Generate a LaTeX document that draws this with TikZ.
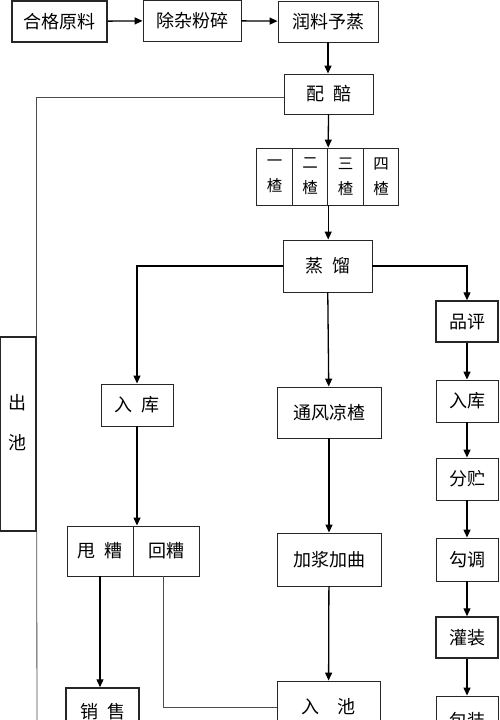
\documentclass[tikz,border=0pt]{standalone}
\usepackage{fontspec}
\newfontfamily\cjk{Noto Sans CJK SC}
\usetikzlibrary{arrows.meta}

\begin{document}
\begin{tikzpicture}[x=1pt,y=-1pt,
		box/.style={draw=black!85,line width=0.9pt,inner sep=0pt,minimum height=41pt,align=center,font=\cjk\fontsize{18}{20}\selectfont},
		heavy/.style={box,line width=1.5pt},
		zha/.style={box,minimum width=35.5pt,minimum height=57pt,font=\cjk\fontsize{15.5}{25}\selectfont},
		e/.style={-{Triangle[length=8pt,width=7pt]},line width=1.3pt,draw=black},
		l/.style={line width=0.8pt,draw=black!70}
		]
		\clip (0,0) rectangle (500,720);
		\node[heavy,minimum width=95pt] (raw) at (59.5,21.5) {合格原料};
		\node[box,minimum width=98pt] (clean) at (192,20.5) {除杂粉碎};
		\node[box,minimum width=100pt] (presteam) at (328,21.5) {润料予蒸};
		\node[box,minimum width=89pt,minimum height=40pt] (mix) at (328.5,94) {配\enspace 醅};
		\node[zha] (c1) at (274.5,176.5) {一\\楂};
		\node[zha] (c2) at (310,176.5) {二\\楂};
		\node[zha] (c3) at (345.5,176.5) {三\\楂};
		\node[zha] (c4) at (381,176.5) {四\\楂};
		\node[box,minimum width=89pt,minimum height=52pt] (distil) at (327.5,266) {蒸\enspace 馏};
		\node[heavy,minimum width=36pt,minimum height=194pt,text depth=24pt,font=\cjk\fontsize{18}{40}\selectfont] (pitout) at (18,434) {出\\池};
		\node[box,minimum width=72pt,minimum height=42pt] (storeL) at (137,405) {入\enspace 库};
		\node[box,minimum width=104pt,minimum height=51pt] (cool) at (329,412.5) {通风凉楂};
		\node[box,minimum width=66pt,minimum height=50pt] (discard) at (100,551) {甩\enspace 糟};
		\node[box,minimum width=66pt,minimum height=50pt] (back) at (166,551) {回糟};
		\node[box,minimum width=104pt,minimum height=53pt] (addqu) at (329,559.5) {加浆加曲};
		\node[heavy,minimum width=73pt,minimum height=48pt] (sale) at (102.5,712) {销\enspace 售};
		\node[box,minimum width=103pt,minimum height=52pt] (pitin) at (328.5,707) {入\quad 池};
		\node[heavy,minimum width=62pt] (taste) at (467,321.5) {品评};
		\node[box,minimum width=62pt,minimum height=42pt] (storeR) at (467,401) {入库};
		\node[box,minimum width=62pt,minimum height=42pt] (split) at (467,479) {分贮};
		\node[box,minimum width=62pt,minimum height=43pt] (blend) at (467,559.5) {勾调};
		\node[heavy,minimum width=62pt] (bottle) at (467,637.5) {灌装};
		\node[box,minimum width=62pt,minimum height=50pt] (pack) at (467,721) {包装};
		\coordinate (pitlow) at (37,760);
		\draw[e] (raw)--(clean); \draw[e] (clean)--(presteam);
		\draw[e] (presteam)--(presteam |- mix.north);
		\draw[e] (mix.south)--(c2.north east);
		\draw[e] (c2.south east)--(c2.south east |- distil.north);
		\draw[l] ([yshift=-3pt]mix.west) -| (pitout.north east);
		\draw[l] (pitout.south east)--(pitlow);
		\draw[e] (distil.west) -| (storeL.north);
		\draw[e] (distil.east) -| (taste.north);
		\draw[e] (distil)--(cool); \draw[e] (cool)--(addqu); \draw[e] (addqu)--(pitin);
		\draw[e] (storeL)--(storeL |- back.north);
		\draw[e] (discard)--(discard |- sale.north);
		\draw[l] ([xshift=-3pt]back.south) |- (pitin.west);
		\draw[e] (taste)--(storeR); \draw[e] (storeR)--(split); \draw[e] (split)--(blend);
		\draw[e] (blend)--(bottle); \draw[e] (bottle)--(pack);
	\end{tikzpicture}
\end{document}
